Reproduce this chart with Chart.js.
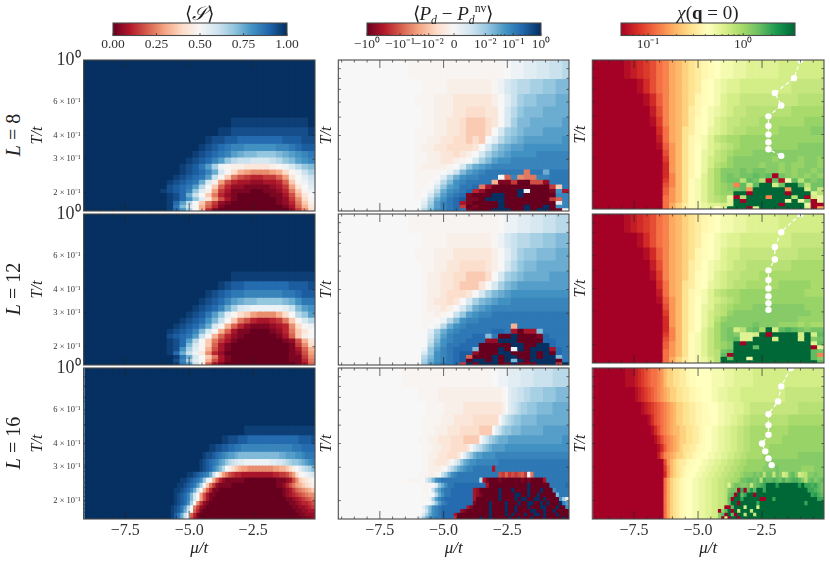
<!DOCTYPE html>
<html>
<head>
<meta charset="utf-8">
<script src="https://cdn.jsdelivr.net/npm/chart.js@4/dist/chart.umd.min.js"></script>
<style>
  html, body { margin: 0; padding: 0; background: #fff; }
  body { width: 830px; height: 563px; position: relative; overflow: hidden; font-family: "Liberation Serif", serif; color: #222; }
  canvas { position: absolute; }
  .lbl { position: absolute; white-space: nowrap; transform: translate(-50%, -50%); }
  .rot { transform: translate(-50%, -50%) rotate(-90deg); font-size: 20px; }
  .cbt { font-size: 19px; }
  i { font-style: italic; }
  sub, sup { font-size: 62%; line-height: 0; }
</style>
</head>
<body>
<script>
// inverse temperature edges of the rows, T = 1/beta
const betaEdges = [1, 1.25, 1.5, 1.75, 2, 2.25, 2.5, 2.75, 3, 3.25, 3.5, 3.75, 4, 4.25, 4.5, 4.75, 5, 5.25, 5.5, 5.75, 6, 6.25]
const muTicks = [-7.5, -5, -2.5]
const muMinor = [-9, -8.5, -8, -7, -6.5, -6, -5.5, -4.5, -4, -3.5, -3, -2, -1.5, -1, -0.5]
const tempTicks = [0.2, 0.3, 0.4, 0.6, 1]
const tempMinor = [0.9, 0.8, 0.7, 0.5]
const tempLabels = { 1: '10⁰', 0.6: '6 × 10⁻¹', 0.4: '4 × 10⁻¹', 0.3: '3 × 10⁻¹', 0.2: '2 × 10⁻¹' }

// cells: one char per cell, base 36 position in the colormap, rows top to bottom, right aligned
// spaces are only there to make long runs countable
const sL8 = ['z','z','z','z',
'zyyyyyyyyyyyyz','zyyxxxxxxxxxxxxy','zyxxwwvvvvvvvwwwxx','zyxwvuttsssssttuvww','zyxwvutrqppooopqrstu','zyxwvtromllkkklmoprst',
'yxwurnigffeeeefgikmop','zyxwvtqkgdba999abdgiln','yxwvurlgc86544557aehjl','yxwvuqkfa6433223347cgik','xwvurmhc74221111235aehj',
'yxwvtojfa531110011248cgi','zyxvqlhc8421000001136beh','zyxvsojea6310000001259dg','zzyvrmhc852100000001248cf','zzyupkgb741000000000137be','yvsnhb4100000000000259d']
const sL12 = ['z','z','z','z',
'zyyyyyyyyyyyyy','zyxwwvvvvvvvwwwx','zyxwvuuttttttuuvww','zyxwvtrqppoooopqsuu','zyxwvtqnkjiiiiijlprs','zyxwurojgdca999bdhmor',
'zyxwvsplhc86433458cgkm','yxwvtqkgb7421112349dgi','yxwvtpkgb73110001248ceh','xwvurlhb742100000137cfh','zyxvrmhc85310000000126be',
'zyxvpkgc731000000000159d','zyxsnjgb631000000000137b','zzyvqlie9420000000000126a','zzyuqkhc8310000000001159','zzxtnjgb6310000000001148','zzyurlf73100000000000137']
const sL16 = ['z','z','z','z',
'zyyyyyyyyyyyyyyyyyyyyyy','zyyxxxwwwvvvvvvvvvvvvvvvvwwwwx','zyyxxwwvvuuttttttttttttttttuuuvvvv','zyxxwvutsrrqpppppppppppppqqrrrsstuuu',
'zyxwvutrqomlkjjiiiiiiiijjkklmnoopqrst',
'zyxwvtrpmh fdcbaa 99999999 aabbcdfhjlmnp',
'zyyxwvutqlh da865 44 3333333333 44 5568adghijk',
'zyyxwvusoih b742 111111 0000000000 1112369cdefg',
'zyyxwvurnh c852 1111 00000 00000 0000 112468abcdef',
'zyyxwvtqlh b7411 00000 00000 00000 00000 1235789abc',
'zyxwvtpkh a6311 00000 00000 00000 000000 1234567899',
'zyxwvtpkh a631 00000 00000 00000 00000 000 112345678',
'zyxwvsnh 9521 00000 00000 00000 00000 00000 11234456',
'zyxwurmh 8521 00000 00000 00000 00000 00000 00 1122345',
'zyxwuqlh 741 00000 00000 00000 00000 00000 0000 112233',
'zywuqlh 741 00000 00000 00000 00000 00000 00000 0 11222',
'zywuqlh 631 00000 00000 00000 00000 00000 00000 00 1112'].map(r => r.replace(/ /g, ''))
const pL8 = ['ggggggggggggggghiijjkkllm','ggggfffffffgiklmmnnoopp','gggfffeeeeeefhjlnoopppqq','ggfffeedddeehkmopppqqqq','ggffeedcccdehknppqqqqqr',
'gggffeedcccdhknopqqqrrrr','ggffeeddcdchjmopqrrrrrrs','gffeeddddehknpqrrsssssss','ggffeedefhknpqrssssttttt','ggffeefghknprssttttttttt',
'gffffghkoqrstttttttttttt','gggghilprstuuuuuu8uuquuu','ggghjnqsttuuuh7t988ttuuu','gghimpstuuuub11500662uuu','gghkorsuuv830000000005cu',
'ghimqstuv4200000zi0001s3','ghkortuv1000zz00z00000tt','gimqsuvw110zzz000000057t','hjnrtuv310000z00000000jt','hkortuv501000z000z00z0st','hmpstuvu1000zzz00z0zz01h']
const pL12 = ['gggggggggggggghiijjkkllmm','ggggfffffffgiklmmnnoopp','gggfffeeeeeefhjlnoopppqq','ggffeeddddefhkmoppqqqqq','gffeeddcccdhknopqqqqrrr',
'gffeedcccehknpqrrrrrrrr','gffedddehknpqrsssssssss','gfeedehknpqrssttttttttt','gffefhknqrstttttttttttt','ggfghlorsttuuuuuuuuuuuu',
'gghimpsttuuuuuuuuuuuuuu','ghimqstuuuuuuubuuuuuuuu','hjnqstuuuuuvvu3033puuuu','hkortuuuvvpu00z0001vuuu','hlpstuuvvv22zzz0000vvuu',
'hmqsuuvvv00000zz00zzvuu','iortuvvvp000z0iz0zzz3vu','kostuvww2000zz000z0z0vu','mpstuvw7000z0zz00z0zzpu','nqstuvw0zz0z0zpz0zzzz0u','ortuuv5z1zzz01z111zzz5z']
const pL16 = ['gggggggggggggggggggggggggggghhiiijjjjkkkkllllllmmmmm','ggggggffffffffffffffffffffghjkkllmmnnnnoooopppp','ggggggffffffeeeeeeeeeeeefhjklmnnooopppppqqqqq','ggggggffffeeeeeeddddddddhjlmnoopppppqqqqqqqqqq',
'ggggffffeeeeddddddcccchjlnoopppqqqqqqqrrrrrrrr','gggfffeeeeddddccccchjlnopqqqrrrrrrrrrrrrrrrrrss','gggfffeeedddddehjlmopqrrrrssssssssssssssssssss','ggfffeeedddehjmoqrrssssttttttttttttttttttttttt',
'ggffeeeefhjloqrsstttttttuuuuuuuuuuuuuuuuuuuuuu','ggffffghkmoqrsttuuuuuu3uuuuuuuuuuuuuuuuuuuuuuu','gggffghlnqstuuuuuuuuuuuuu657565675i8uuuuuuuuuuu','ggggghkmpstuuuuuuuuuuuum31000100000010100003uuuuuuu',
'ggghjoqsuuvvvvvvvvvv3000000000000z000000uuuuuv','gghlprtuuvvvvvvv32000000z000z0000z000z000suuuu','ghhmqsuuvvvvvvv32100000z0000zz00z00z00000puuu','ghinrtuvvvvvvvvv30000000z0000z0zz00zz0z0000sni',
'hhkortuvvvvvvvv10000z0000z000z00zz00z0z000ztr','hhjmpstuvvvvvvvv3100000z0000z00z000z000zz000z00s','hilpstuvvvvvv210000000z0000z00z0000zz00z00z0000','hhknqstuvvvv30000000000z0000z0z000z00zz0z000z000','hknqstuuvvvv50000000z00z00000z00z000z000z00000z0']
const chiL8 = ['1234578abcdefghiijjkkkkklllllll','13578abcdeghijkkllllllllmmmmm','1368abcdfghikllmmmmmmmmmnnnn','258abcefhijklmmnnnnnnnooooo','148abceghiklmmnnnoooooooppp',
'37abdeghjklmnnooooopppppqq','27abdfgikmnooppppppppppppp','169bdfhiklmnopppppppppqqqq','059bdfhjkmnopppqqqqqqqqqqq','049bdfhjlmnpqqqqqqpqqqpqqp',
'039bdfhjlnopqqqqpqqpqppqqp','039bdfhjmoqqqrqrrqqpqpqqpq','038bdfhkmoqrqrrsrs0rqpqpqp','048bdgikmoqrrnsrn0s1isnrqr','058bdgikmopq8smszzlrzzsnrr',
'069bdgikmopqrs9zzzzz9zzlrm','069bdgikmoppzz0zzzzz0zzzkn','079bdgikmnoj0nzzz8zzznz0lj','079bdgikmnokz0zzzzzzjzjr0j','07acegijkklkzzzzzzz0zzzj00','07acegijkhkzzz0kzzzzzzzk0a']
const chiL12 = ['1234578abcdefghiijjkkkkklllllll','13578abcdeghijkkllllllllmmmmm','1368abcdfghikllmmmmmmmmmnnnn','258abcefhijklmmnnnnnnnooooo','148abceghiklmmnnnoooooooooo',
'37abdeghjklmnnooooopppppoo','27abdfgikmnooppppppppppooo','169bdfhiklmnoppppppppppppp','059bdfhjkmnopppqqqqqqqqppp','049bdfhjlmnpqqqqqqqqqqqqpp',
'039bdfhjlnpqqqqqqqqqqqpppp','039bdfhjloqqqqqrqqqpppopoo','038bdfhkmoqrlnrsozlstsrqrr','048bdgikmoqrqkklz0zzzzlzls','058bdgikmoqrskkzzzlzzzlzqr',
'069bdgikmopqz0zzzzzzzzzzks','069bdgikmopqzzzszzzzzzzz0k','079bdgikmnrszzzzzzzzzzzzsr','079bdgikmns0zzzzzzzzzzzzs8','07acegijlnzszzjzzzzzzzzzsq','07acegijlnzzzzzzzzzzzzzzzs']
const chiL16 = ['1112345677 89bccddeef gghhhhhiii ijjjkkkkkk llllllllllllllllllllll','12345678 9abccddeeffgg hhhiijjjkkkkll llllllllllll mmmmmmmmmmmm','12345678 9abccddeeffgg hhhiijjjkkkllm mmmmmmmmmmmmmm nnnnnnnn','1356789a bccddeeffggg hhiijjkkllmm nnnnnnnnnnnn ooooooooooo',
'135789abbccddeefgh hiijjkkllmmnn oooooooooooo ppppppppppp','135789abccddeefg hhiijjkkllmmnn oooooooooo ppppppppppppp','13689abcddeefgg hhiijjkkllmmnn oooooo ppppppppppppppppp','2589abccdeefgg hhiijjkkllmmnno oooo ppppppppppp qqqqqqqq',
'059bcdeefgg hhiijjkkllmmnnoo pppppp qqqqqqqqqqqqqqqqqq','048bcdefgg hhiijjkkllmmnnoo pppppp qqqqrqqqqqqqppppqqq','038bcdefg hhiijjkkllmmnnoo pqqq rqrnrrmrqlmrsqlmnqqrqq','07acdefghhiijjkkllmmnnooprrssrsntsstsrtrsttsqnrsqrs',
'07acdefghhiijjkkllmmnkprrqqrmrstuzzzvzzzzzzvzuutusr','07acdefghhiijjkkllmmnqrr0u0svszzuzzzzzzzzzzzzzuutsr','07acdefghhiijjkkllmmnrs0zsuzz0zzzzzzzzzzzzzzzzzuvts','07acdefghhiijjkkllmmns0zzuzzzzz00zzuzzzzzzzzzzzzzuu',
'07acdefghhiijjkkllmmnrzz0zzzzzuzzzzzzzzzzzzzzuzzzzz','07acdefghhiijjkkllmm00szzzlzzzlzzzzzzzzzzzzzzzzzzzz','07acdefghhiijjkkll0psz0zmzzzmzzzzzzzzzzzzzzzzzzzzzz','07acdefghhiijjkkllqs0zs0zzmzzmzzzzzzzzzzzzzzzzzzzzz','07acdefghhiijjkkllq0k0zz0zzzzzzzzzzzzzzzzzzzzzzzzzz'].map(r => r.replace(/ /g, ''))

// peak positions of chi, one per beta
const peakBeta = [1, 1.25, 1.5, 1.75, 2, 2.25, 2.5, 2.75, 3, 3.25]
const peakMuL8 = [-1, -1.25, -2, -1.75, -2.25, -2.25, -2.25, -2.25, -2.25, -1.75]
const peakMuL12 = [-1, -1.75, -2, -2, -2.25, -2.25, -2.25, -2.25, -2.25, -2.25]
const peakMuL16 = [-1.375, -1.75, -1.875, -2.25, -2.25, -2.25, -2.5, -2.375, -2.25, -2.125]

const rdbu = ['#67001f','#b2182b','#d6604d','#f4a582','#fddbc7','#f7f7f7','#d1e5f0','#92c5de','#4393c3','#2166ac','#053061']
const rdylgn = ['#a50026','#d73027','#f46d43','#fdae61','#fee08b','#ffffbf','#d9ef8b','#a6d96a','#66bd63','#1a9850','#006837']
// pale chars sit closer together around the middle of the map
const paleLevels = { c: 0.37, d: 0.41, e: 0.44, f: 0.47, g: 0.49 }

const muMin = -9.13, muMax = -0.08
const colX = [84, 338.7, 592.7], colW = [231, 230.6, 231.3]
const rowY = [60, 214, 368], rowH = 151
const titleX = [38, 327, 581]

function cmap(stops, t) {
  t = Math.min(1, Math.max(0, t))
  const p = t * (stops.length - 1), i = Math.min(stops.length - 2, Math.floor(p)), f = p - i
  const a = parseInt(stops[i].slice(1), 16), b = parseInt(stops[i + 1].slice(1), 16)
  const ch = s => Math.round(((a >> s) & 255) * (1 - f) + ((b >> s) & 255) * f)
  return 'rgb(' + ch(16) + ',' + ch(8) + ',' + ch(0) + ')'
}

function levelOf(c) {
  if (paleLevels[c]) return paleLevels[c]
  const i = parseInt(c, 36)
  return i <= 17 ? i / 34 : 0.5 + (i - 17) / 36
}

// inward ticks and the box, the chart only does the labels
const framePlugin = {
  id: 'frame',
  afterDatasetsDraw(chart, args, opts) {
    const { ctx, chartArea: a, scales } = chart
    ctx.save()
    ctx.strokeStyle = 'rgba(35,35,35,0.85)'
    ctx.lineWidth = 0.8
    const tick = (x1, y1, x2, y2) => { ctx.beginPath(); ctx.moveTo(x1, y1); ctx.lineTo(x2, y2); ctx.stroke() }
    const xTick = (v, len, both) => {
      const x = scales.x.getPixelForValue(v)
      tick(x, a.bottom, x, a.bottom - len)
      if (both) tick(x, a.top, x, a.top + len)
    }
    const yTick = v => {
      const y = scales.y.getPixelForValue(v)
      tick(a.left, y, a.left + 2.5, y)
      tick(a.right, y, a.right - 2.5, y)
    }
    ;(opts.xMajor || []).forEach(v => xTick(v, opts.majorLen, opts.both))
    ;(opts.xMinor || []).forEach(v => xTick(v, opts.minorLen, opts.both))
    ;(opts.yTicks || []).forEach(yTick)
    ctx.strokeStyle = '#4a4a4a'
    ctx.lineWidth = 1.1
    ctx.strokeRect(a.left, a.top, a.right - a.left, a.bottom - a.top)
    ctx.restore()
  }
}

function addCanvas(left, top, w, h) {
  const c = document.createElement('canvas')
  c.width = w; c.height = h
  c.style.left = left + 'px'; c.style.top = top + 'px'
  c.style.width = w + 'px'; c.style.height = h + 'px'
  document.body.appendChild(c)
  return c
}

function heatmap(col, row, rows, stops, fillChar, x0, nCols, peaks) {
  const padL = colX[col] - (titleX[col] - 9.6), padT = 12, padR = 4, padB = row == 2 ? 563 - (rowY[2] + rowH) : 2
  const canvas = addCanvas(colX[col] - padL, rowY[row] - padT, Math.ceil(padL + colW[col] + padR), padT + rowH + padB)
  const step = (muMax - x0) / nCols
  const xs = []
  for (let i = 0; i < nCols; i++) xs.push(x0 + step * (i + 0.5))

  const datasets = rows.map((r, j) => {
    const cells = r.padStart(nCols, fillChar).slice(-nCols)
    return {
      data: xs.map(x => ({ x: x, y: [1 / betaEdges[j + 1], 1 / betaEdges[j]] })),
      backgroundColor: [...cells].map(c => cmap(stops, levelOf(c))),
      borderWidth: 0,
      inflateAmount: 0.5,
      barPercentage: 1,
      categoryPercentage: 1,
      grouped: false
    }
  })
  if (peaks) {
    datasets.push({
      type: 'line',
      order: -1,
      data: peaks.map((m, i) => ({ x: m, y: 1 / peakBeta[i] })),
      borderColor: '#fff',
      borderWidth: 1.2,
      borderDash: [4, 2.5],
      pointRadius: 3.2,
      pointBackgroundColor: '#fff',
      pointBorderWidth: 0,
      fill: false
    })
  }

  new Chart(canvas, {
    type: 'bar',
    data: { datasets: datasets },
    plugins: [framePlugin],
    options: {
      responsive: false,
      animation: false,
      layout: { padding: { top: padT, right: padR, left: 0, bottom: 0 } },
      plugins: {
        legend: { display: false },
        tooltip: { enabled: false },
        frame: { xMajor: muTicks, xMinor: muMinor, majorLen: 8, minorLen: 2.5, both: true, yTicks: tempTicks.slice(0, 4).concat(tempMinor) }
      },
      scales: {
        x: {
          type: 'linear', min: muMin, max: muMax, offset: false,
          grid: { display: false, drawTicks: false, offset: false }, border: { display: false },
          afterBuildTicks: s => { s.ticks = muTicks.map(v => ({ value: v })) },
          afterFit: s => { s.height = padB },
          ticks: {
            display: row == 2, autoSkip: false, maxRotation: 0, padding: 2, color: '#333',
            font: { family: 'Liberation Serif', size: 16 },
            callback: v => '−' + Math.abs(v).toFixed(1)
          },
          title: {
            display: row == 2, text: 'μ/t', color: '#222',
            font: { family: 'Liberation Serif', size: 17, style: 'italic' },
            padding: { top: 0, bottom: 4 }
          }
        },
        y: {
          type: 'logarithmic', min: 1 / betaEdges[betaEdges.length - 1], max: 1,
          grid: { display: false, drawTicks: false }, border: { display: false },
          afterBuildTicks: s => { s.ticks = tempTicks.map(v => ({ value: v })) },
          afterFit: s => { s.width = padL; s.paddingTop = 0; s.paddingBottom = 0 },
          ticks: {
            display: col == 0, autoSkip: false, padding: 3, color: '#333',
            font: c => ({ family: 'Liberation Serif', size: c.tick && c.tick.value == 1 ? 18 : 8.5 }),
            callback: v => tempLabels[v]
          },
          title: {
            display: true, text: 'T/t', color: '#222',
            font: { family: 'Liberation Serif', size: 16, style: 'italic' },
            padding: 0
          }
        }
      }
    }
  })
}

function colorbar(left, width, stops, min, max, ticks, minor, labels) {
  const pad = 30, top = 23, h = 12.5
  const canvas = addCanvas(left - pad, top - 2, Math.ceil(width + 2 * pad), 36)
  const n = 128, step = (max - min) / n, xs = [], colors = []
  for (let i = 0; i < n; i++) {
    xs.push(min + step * (i + 0.5))
    colors.push(cmap(stops, (i + 0.5) / n))
  }
  new Chart(canvas, {
    type: 'bar',
    data: {
      datasets: [{
        data: xs.map(x => ({ x: x, y: [0, 1] })),
        backgroundColor: colors, borderWidth: 0, inflateAmount: 0.5,
        barPercentage: 1, categoryPercentage: 1
      }]
    },
    plugins: [framePlugin],
    options: {
      responsive: false,
      animation: false,
      layout: { padding: { top: 2, left: pad, right: pad, bottom: 0 } },
      plugins: {
        legend: { display: false },
        tooltip: { enabled: false },
        frame: { xMajor: ticks, xMinor: minor, majorLen: 2.5, minorLen: 1.5, both: false }
      },
      scales: {
        x: {
          type: 'linear', min: min, max: max, offset: false,
          grid: { display: false, drawTicks: false, offset: false }, border: { display: false },
          afterBuildTicks: s => { s.ticks = ticks.map(v => ({ value: v })) },
          afterFit: s => { s.height = 36 - 2 - h },
          ticks: {
            autoSkip: false, maxRotation: 0, padding: 1, color: '#333',
            font: { family: 'Liberation Serif', size: 13.5 },
            callback: (v, i) => labels[i]
          }
        },
        y: { display: false, min: 0, max: 1 }
      }
    }
  })
}

function label(x, y, html, cls) {
  const d = document.createElement('div')
  d.className = 'lbl ' + cls
  d.style.left = x + 'px'; d.style.top = y + 'px'
  d.innerHTML = html
  document.body.appendChild(d)
}

heatmap(0, 0, sL8, rdbu, 'z', -9.13, 36)
heatmap(0, 1, sL12, rdbu, 'z', -9.13, 36)
heatmap(0, 2, sL16, rdbu, 'z', -9.08, 72)
heatmap(1, 0, pL8, rdbu, 'h', -9.13, 36)
heatmap(1, 1, pL12, rdbu, 'h', -9.13, 36)
heatmap(1, 2, pL16, rdbu, 'h', -9.08, 72)
heatmap(2, 0, chiL8, rdylgn, '0', -9.13, 36, peakMuL8)
heatmap(2, 1, chiL12, rdylgn, '0', -9.13, 36, peakMuL12)
heatmap(2, 2, chiL16, rdylgn, '0', -9.08, 72, peakMuL16)

colorbar(113, 173.5, rdbu, 0, 1, [0, 0.25, 0.5, 0.75, 1], [], ['0.00', '0.25', '0.50', '0.75', '1.00'])
colorbar(367, 173.7, rdbu, 0, 1, [0, 0.19, 0.355, 0.5, 0.68, 0.84, 1], [0.08, 0.12, 0.26, 0.29, 0.31, 0.33, 0.72, 0.75, 0.77, 0.79, 0.88, 0.91, 0.93, 0.95],
  ['−10⁰', '−10⁻¹', '−10⁻²', '0', '10⁻²', '10⁻¹', '10⁰'])
colorbar(621.3, 173.7, rdylgn, -1.284, 0.544, [-1, 0], [-1.222, -1.155, -1.097, -1.046, -0.699, -0.523, -0.398, -0.301, -0.222, -0.155, -0.097, -0.046, 0.301, 0.477],
  ['10⁻¹', '10⁰'])

label(199.5, 13, '⟨<i>𝒮</i>⟩', 'cbt')
label(453, 13, '⟨<i>P<sub>d</sub></i> − <i>P<sub>d</sub></i><sup>nv</sup>⟩', 'cbt')
label(708, 13, '<i>χ</i>(<b>q</b> = 0)', 'cbt')
label(13, 135, '<i>L</i> = 8', 'rot')
label(13, 289, '<i>L</i> = 12', 'rot')
label(13, 443, '<i>L</i> = 16', 'rot')
</script>
</body>
</html>
